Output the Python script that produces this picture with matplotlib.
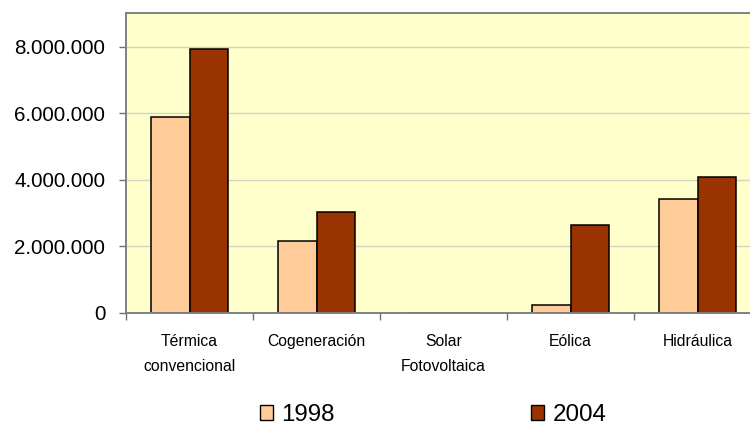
import matplotlib
matplotlib.use("Agg")
import matplotlib.pyplot as plt
from matplotlib.patches import Patch
import numpy as np

plt.rcParams['font.family'] = ['Liberation Sans', 'DejaVu Sans']

categories = ["Térmica\nconvencional", "Cogeneración", "Solar\nFotovoltaica", "Eólica", "Hidráulica"]
values_1998 = [5890000, 2170000, 0, 240000, 3420000]
values_2004 = [7940000, 3020000, 0, 2640000, 4090000]
series_labels = ["1998", "2004"]
ytick_labels = ["0", "2.000.000", "4.000.000", "6.000.000", "8.000.000"]

W, H = 750, 426
fig = plt.figure(figsize=(W / 100, H / 100), dpi=100)
fig.patch.set_facecolor("white")

left, right, top, bottom = 126, 761, 13.3, 312.7
ax = fig.add_axes([left / W, (H - bottom) / H, (right - left) / W, (bottom - top) / H])
ax.set_facecolor("#FFFFCC")

x = np.arange(len(categories))
bw = 0.3
c1998 = "#FFCC99"
c2004 = "#993300"
ax.bar(x - bw / 2, values_1998, width=bw, color=c1998, edgecolor="black", linewidth=1.1, zorder=2)
ax.bar(x + bw / 2, values_2004, width=bw, color=c2004, edgecolor="black", linewidth=1.1, zorder=2)

ax.set_xlim(-0.5, len(categories) - 0.5)
ax.set_ylim(0, 9000000)

yt = [0, 2000000, 4000000, 6000000, 8000000]
ax.set_yticks(yt)
ax.set_yticklabels(ytick_labels, fontsize=14.9, color="black")
ax.yaxis.grid(True, color="#D4D4C4", linewidth=1.0, zorder=0)
ax.set_axisbelow(True)

ax.set_xticks(np.arange(len(categories) + 1) - 0.5)
ax.set_xticklabels([])
ax.set_xticks(x, minor=True)
ax.set_xticklabels(categories, minor=True, fontsize=11.3, linespacing=1.85, va="top")
ax.tick_params(axis="x", which="minor", length=0, pad=15)
ax.tick_params(axis="x", which="major", length=5, color="#707070", width=1.0)
ax.tick_params(axis="y", length=5, color="#707070", width=1.0, pad=10)

for side in ["left", "bottom", "top", "right"]:
    ax.spines[side].set_color("#808080")
    ax.spines[side].set_linewidth(1.4)
    ax.spines[side].set_zorder(3)

handles = [Patch(facecolor=c1998, edgecolor="black", linewidth=1.0),
           Patch(facecolor=c2004, edgecolor="black", linewidth=1.0)]
fig.legend(handles, series_labels, loc="center", bbox_to_anchor=(433 / W, 1 - 415 / H),
           ncol=2, frameon=False, fontsize=17.4, handlelength=0.55, handleheight=0.55,
           handletextpad=0.35, columnspacing=8.1, borderpad=0)

fig.savefig("out.png", dpi=100, facecolor="white")
